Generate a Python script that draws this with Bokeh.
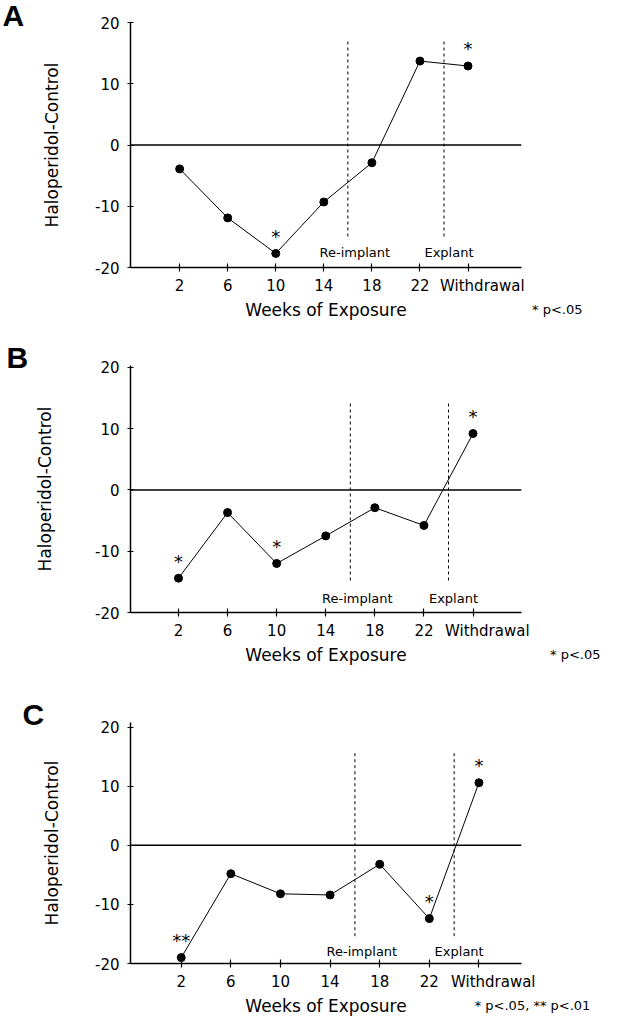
from bokeh.plotting import figure
from bokeh.layouts import column
from bokeh.models import FixedTicker, Span, Range1d, Title
from bokeh.core.properties import value
from bokeh.embed import file_html
from bokeh.resources import INLINE

# ---------------- data ----------------
weeks = [2, 6, 10, 14, 18, 22, 26]
week_labels = ["2", "6", "10", "14", "18", "22", "Withdrawal"]
y_ticks = [-20, -10, 0, 10, 20]
y_tick_labels = ["-20", "-10", "0", "10", "20"]

panel_a = [-3.9, -11.9, -17.7, -9.3, -2.9, 13.7, 12.9]
panel_b = [-14.4, -3.7, -12.0, -7.5, -2.9, -5.8, 9.2]
panel_c = [-19.0, -4.8, -8.2, -8.4, -3.2, -12.4, 10.6]

sig_a = ["", "", "*", "", "", "", "*"]
sig_b = ["*", "", "*", "", "", "", "*"]
sig_c = ["**", "", "", "", "", "*", "*"]

event_weeks = [16, 24]
event_names = ["Re-implant", "Explant"]

footnote_a = "* p<.05"
footnote_b = "* p<.05"
footnote_c = "* p<.05,  ** p<.01"

FONT = "DejaVu Sans"
PAGE_W = 616

specs = [
    dict(letter="A", vals=panel_a, sig=sig_a, foot=footnote_a,
         top_page=8, height=332, left=130, right=80, top=22, bottom=65,
         xr=(-2.09, 30.45), yr=(-20, 20), dash=(16.9, -15.3), ev_y=-17.6,
         ytitle_standoff=30, letter_left=10, letter_drop=3, foot_right=605),
    dict(letter="B", vals=panel_b, sig=sig_b, foot=footnote_b,
         top_page=340, height=348, left=122, right=95, top=33, bottom=68,
         xr=(-1.91, 29.95), yr=(-20, 20.3), dash=(14.1, -15.1), ev_y=-17.7,
         ytitle_standoff=37, letter_left=6, letter_drop=2, foot_right=608),
    dict(letter="C", vals=panel_c, sig=sig_c, foot=footnote_c,
         top_page=688, height=338, left=108, right=75, top=42, bottom=49,
         xr=(-2.09, 29.43), yr=(-20, 20.8), dash=(15.6, -15.6), ev_y=-17.9,
         ytitle_standoff=30, letter_left=8, letter_drop=2, foot_right=622),
]

LETTER_SIZE = 30
LETTER_DESCENT = 0.212 * LETTER_SIZE


def make_title(standoff, **kw):
    t = Title(**kw)
    try:
        t.standoff = standoff
    except Exception:
        t.standoff = 0
    return t


def make_panel(s):
    p = figure(width=PAGE_W, height=s["height"],
               x_range=Range1d(*s["xr"]), y_range=Range1d(*s["yr"]),
               output_backend="svg", toolbar_location=None,
               min_border_left=s["left"], min_border_right=s["right"],
               min_border_top=s["top"], min_border_bottom=s["bottom"])
    p.outline_line_color = None
    p.grid.visible = False
    p.background_fill_color = "white"
    p.border_fill_color = "white"

    frame_left = 8 + s["left"]
    frame_right = 8 + PAGE_W - s["right"]

    xa = p.xaxis[0]
    xa.ticker = FixedTicker(ticks=weeks)
    labels = list(week_labels)
    labels[-1] = "\u00a0" * 6 + labels[-1]
    xa.major_label_overrides = {w: lab for w, lab in zip(weeks, labels)}
    xa.major_tick_in = 4
    xa.major_tick_out = 4
    xa.minor_tick_line_color = None
    xa.axis_line_width = 1.5
    xa.major_tick_line_width = 1.2
    xa.axis_line_color = "black"
    xa.major_tick_line_color = "black"
    xa.major_label_text_font = FONT
    xa.major_label_text_font_size = "15px"
    xa.major_label_text_color = "black"
    xa.major_label_standoff = 5
    xa.axis_label = "Weeks of Exposure"
    xa.axis_label_text_font = FONT
    xa.axis_label_text_font_size = "17px"
    xa.axis_label_text_font_style = "normal"
    xa.axis_label_text_color = "black"
    xa.axis_label_standoff = 2

    ya = p.yaxis[0]
    ya.ticker = FixedTicker(ticks=y_ticks)
    ya.major_label_overrides = {t: lab for t, lab in zip(y_ticks, y_tick_labels)}
    ya.major_tick_in = 3
    ya.major_tick_out = 3
    ya.minor_tick_line_color = None
    ya.axis_line_width = 1.5
    ya.axis_line_color = "black"
    ya.major_tick_line_color = "black"
    ya.major_label_text_font = FONT
    ya.major_label_text_font_size = "15px"
    ya.major_label_text_color = "black"
    ya.major_label_standoff = 8
    ya.axis_label = "Haloperidol-Control"
    ya.axis_label_text_font = FONT
    ya.axis_label_text_font_size = "17px"
    ya.axis_label_text_font_style = "normal"
    ya.axis_label_text_color = "black"
    ya.axis_label_standoff = s["ytitle_standoff"]

    p.add_layout(Span(location=0, dimension="width", line_color="black", line_width=1.5))

    top, bot = s["dash"]
    p.segment(x0=event_weeks, x1=event_weeks, y0=[top] * len(event_weeks), y1=[bot] * len(event_weeks),
              line_color="black", line_width=1, line_dash="3 3")
    p.text(x=event_weeks, y=[s["ev_y"]] * len(event_weeks), text=event_names,
           x_offset=[7, 5], text_align="center", text_baseline="middle",
           text_font=value(FONT), text_font_size="13px", text_color="black")

    vals = s["vals"]
    p.line(weeks, vals, line_color="black", line_width=1)
    p.scatter(weeks, vals, marker="circle", size=8, fill_color="black", line_color="black")

    sx = [w for w, g in zip(weeks, s["sig"]) if g]
    sy = [v for v, g in zip(vals, s["sig"]) if g]
    st = [g for g in s["sig"] if g]
    p.text(x=sx, y=sy, text=st, y_offset=-17, text_align="center", text_baseline="middle",
           text_font=value(FONT), text_font_size="18px", text_color="black")

    # panel letter, drawn as a title that dips to the frame's top edge
    p.add_layout(make_title(-2 * (s["letter_drop"] + LETTER_DESCENT),
                            text=s["letter"], align="left", offset=s["letter_left"] - frame_left,
                            vertical_align="bottom",
                            text_font="Liberation Sans", text_font_size=f"{LETTER_SIZE}px",
                            text_font_style="bold", text_color="black"), "above")
    # footnote, level with the x-axis title
    p.add_layout(make_title(-42, text=s["foot"], align="right", offset=frame_right - s["foot_right"],
                            vertical_align="top",
                            text_font=FONT, text_font_size="13px", text_font_style="normal",
                            text_color="black"), "below")
    return p


panels = [make_panel(s) for s in specs]
layout = column(*panels, spacing=0)

open("out.html", "w").write(file_html(layout, INLINE))
